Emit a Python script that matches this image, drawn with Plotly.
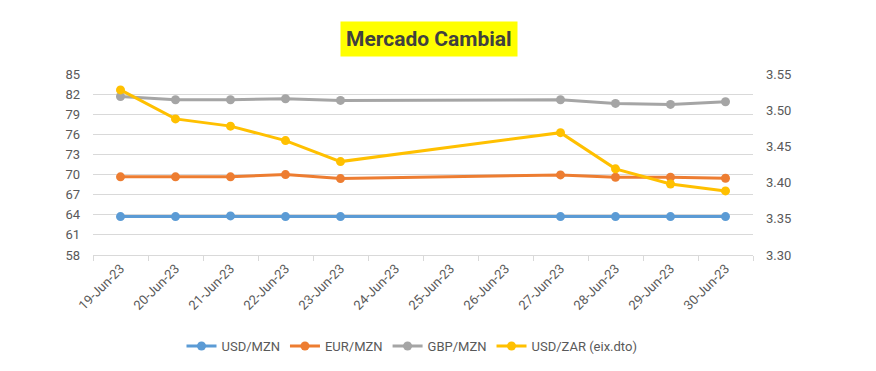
import plotly.graph_objects as go

dates = ["19-Jun-23", "20-Jun-23", "21-Jun-23", "22-Jun-23", "23-Jun-23", "24-Jun-23",
         "25-Jun-23", "26-Jun-23", "27-Jun-23", "28-Jun-23", "29-Jun-23", "30-Jun-23"]
usd_mzn = [63.73, 63.73, 63.83, 63.73, 63.73, None, None, None, 63.73, 63.73, 63.73, 63.73]
eur_mzn = [69.66, 69.66, 69.66, 70.0, 69.4, None, None, None, 69.95, 69.6, 69.6, 69.45]
gbp_mzn = [81.65, 81.16, 81.16, 81.31, 81.06, None, None, None, 81.16, 80.61, 80.46, 80.86]
usd_zar = [3.528, 3.488, 3.478, 3.458, 3.429, None, None, None, 3.469, 3.419, 3.398, 3.3885]

left_ticks = [58, 61, 64, 67, 70, 73, 76, 79, 82, 85]

FONT = "Roboto, sans-serif"
GREY = "#595959"

fig = go.Figure()
series = [
    ("USD/MZN", usd_mzn, "#5B9BD5", "y"),
    ("EUR/MZN", eur_mzn, "#ED7D31", "y"),
    ("GBP/MZN", gbp_mzn, "#A5A5A5", "y"),
    ("USD/ZAR (eix.dto)", usd_zar, "#FFC000", "y2"),
]
for name, vals, col, ax in series:
    fig.add_trace(go.Scatter(
        x=dates, y=vals, name=name, yaxis=ax, mode="lines+markers",
        connectgaps=True,
        line=dict(color=col, width=3),
        marker=dict(color=col, size=9),
    ))

# page body has an 8px default margin, so offsets are compensated
OFF = 8
L, R, T, B = 93 - OFF, 123 + OFF, 74 - OFF, 116 + OFF
pw = 876 - L - R
ph = 371 - T - B
bottom = 371 - B

fig.update_layout(
    width=876, height=371,
    margin=dict(l=L, r=R, t=T, b=B, autoexpand=False),
    paper_bgcolor="white", plot_bgcolor="white",
    font=dict(family=FONT, size=13, color=GREY),
    showlegend=True,
    legend=dict(orientation="h", x=(412 - OFF - L) / pw, xanchor="center",
                y=(bottom - (346 - OFF)) / ph, yanchor="middle",
                font=dict(family=FONT, size=13, color=GREY), itemwidth=30),
    xaxis=dict(
        type="category", categoryorder="array", categoryarray=dates,
        range=[-0.5, 11.5], tickangle=-45, tickson="boundaries",
        ticks="outside", ticklen=5, tickcolor="#d9d9d9",
        showline=True, linecolor="#d9d9d9", linewidth=1, showgrid=False,
        automargin=False,
        tickfont=dict(family=FONT, size=13, color=GREY),
    ),
    yaxis=dict(
        range=[58, 85], tickvals=left_ticks, showgrid=True, gridcolor="#d9d9d9",
        zeroline=False, showline=False, ticks="", automargin=False,
        ticklabelstandoff=12,
        tickfont=dict(family=FONT, size=13, color=GREY),
    ),
    yaxis2=dict(
        overlaying="y", side="right", range=[3.30, 3.55], dtick=0.05, tick0=3.30,
        tickformat=".2f", showgrid=False, zeroline=False, showline=False, ticks="",
        automargin=False, ticklabelstandoff=12,
        tickfont=dict(family=FONT, size=13, color=GREY),
    ),
    annotations=[dict(
        text="<b>Mercado Cambial</b>", x=(429 - OFF - L) / pw,
        y=(bottom - (39 - OFF)) / ph,
        xref="paper", yref="paper", xanchor="center", yanchor="middle",
        showarrow=False, bgcolor="#FFFF00", borderpad=5,
        font=dict(family=FONT, size=21, color="#404040"),
    )],
)

fig.write_html("out.html")
